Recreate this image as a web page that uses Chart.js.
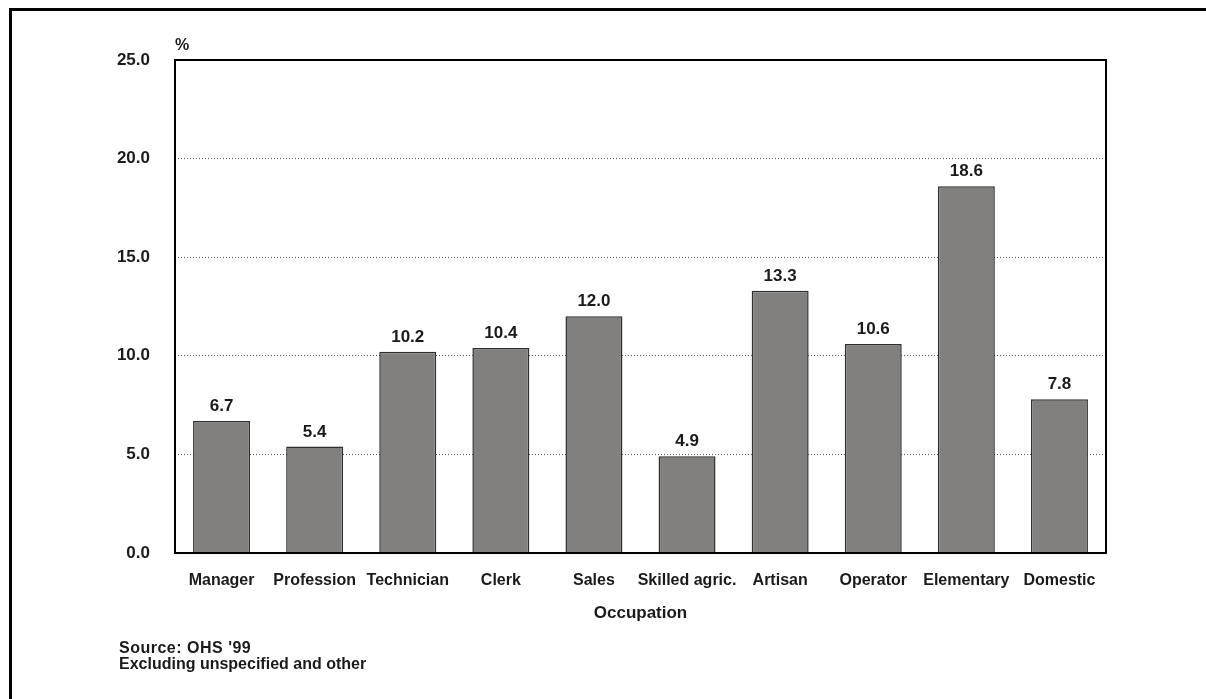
<!DOCTYPE html>
<html>
<head>
<meta charset="utf-8">
<script src="https://cdn.jsdelivr.net/npm/chart.js@4/dist/chart.umd.min.js"></script>
<style>
  html, body { margin: 0; padding: 0; background: #fff; overflow: hidden; }
  #wrap { position: relative; width: 1206px; height: 699px; }
  #frame { position: absolute; left: 9px; top: 8px; width: 1300px; height: 800px; border: 3px solid #000; box-sizing: border-box; }
  #c { position: absolute; left: 0; top: 0; }
  #note { position: absolute; left: 119px; top: 640px; font: bold 16px "Liberation Sans", Arial, sans-serif; line-height: 16px; color: #1a1a1a; }
  #note .l1 { letter-spacing: 0.5px; }
</style>
</head>
<body>
<div id="wrap">
  <div id="frame"></div>
  <canvas id="c" width="1206" height="699"></canvas>
  <div id="note"><span class="l1">Source: OHS '99</span><br>Excluding unspecified and other</div>
</div>
<script>
const categories = ["Manager", "Profession", "Technician", "Clerk", "Sales", "Skilled agric.", "Artisan", "Operator", "Elementary", "Domestic"];
const values = [6.7, 5.4, 10.2, 10.4, 12.0, 4.9, 13.3, 10.6, 18.6, 7.8];
const yTicks = [0, 5, 10, 15, 20, 25];
const yUnit = "%";
const xTitle = "Occupation";

const FONT = '"Liberation Sans", Arial, sans-serif';

const overlay = {
  id: 'overlay',
  afterDatasetsDraw(chart) {
    const ctx = chart.ctx;
    const a = chart.chartArea;
    ctx.save();
    // plot frame
    ctx.strokeStyle = '#000';
    ctx.lineWidth = 2;
    ctx.strokeRect(a.left, a.top, a.right - a.left, a.bottom - a.top);
    // value labels
    ctx.fillStyle = '#1a1a1a';
    ctx.font = 'bold 17px ' + FONT;
    ctx.textAlign = 'center';
    ctx.textBaseline = 'alphabetic';
    const meta = chart.getDatasetMeta(0);
    meta.data.forEach((bar, i) => {
      ctx.fillText(values[i].toFixed(1), bar.x, bar.y - 10);
    });
    // unit label
    ctx.textAlign = 'left';
    ctx.font = 'bold 16px ' + FONT;
    ctx.fillText(yUnit, a.left, a.top - 10);
    ctx.restore();
  }
};

new Chart(document.getElementById('c'), {
  type: 'bar',
  data: {
    labels: categories,
    datasets: [{
      data: values,
      backgroundColor: '#81807e',
      borderColor: '#2e2e2e',
      borderWidth: 1.5,
      borderSkipped: 'bottom',
      categoryPercentage: 1.0,
      barPercentage: 0.612
    }]
  },
  options: {
    responsive: false,
    animation: false,
    devicePixelRatio: 1,
    layout: { padding: { left: 0, top: 60, right: 100, bottom: 66 } },
    plugins: { legend: { display: false }, tooltip: { enabled: false } },
    scales: {
      x: {
        grid: { display: false, drawTicks: false },
        border: { display: false },
        ticks: {
          color: '#1a1a1a',
          font: { family: FONT, size: 16, weight: 'bold' },
          padding: 18,
          maxRotation: 0,
          autoSkip: false
        },
        title: {
          display: true,
          text: xTitle,
          color: '#1a1a1a',
          font: { family: FONT, size: 17, weight: 'bold' },
          padding: { top: 0, bottom: 9 }
        },
        afterFit(scale) { scale.height = 80; }
      },
      y: {
        min: 0,
        max: 25,
        afterBuildTicks(scale) { scale.ticks = yTicks.map(v => ({ value: v })); },
        grid: {
          drawTicks: false,
          color: (ctx) => (ctx.tick && (ctx.tick.value === 0 || ctx.tick.value === 25)) ? 'rgba(0,0,0,0)' : '#555555',
          lineWidth: 1
        },
        border: { display: false, dash: [1, 2] },
        ticks: {
          color: '#1a1a1a',
          font: { family: FONT, size: 17, weight: 'bold' },
          padding: 25,
          callback: (v) => Number(v).toFixed(1)
        },
        afterFit(scale) { scale.width = 175; }
      }
    }
  },
  plugins: [overlay]
});
</script>
</body>
</html>
